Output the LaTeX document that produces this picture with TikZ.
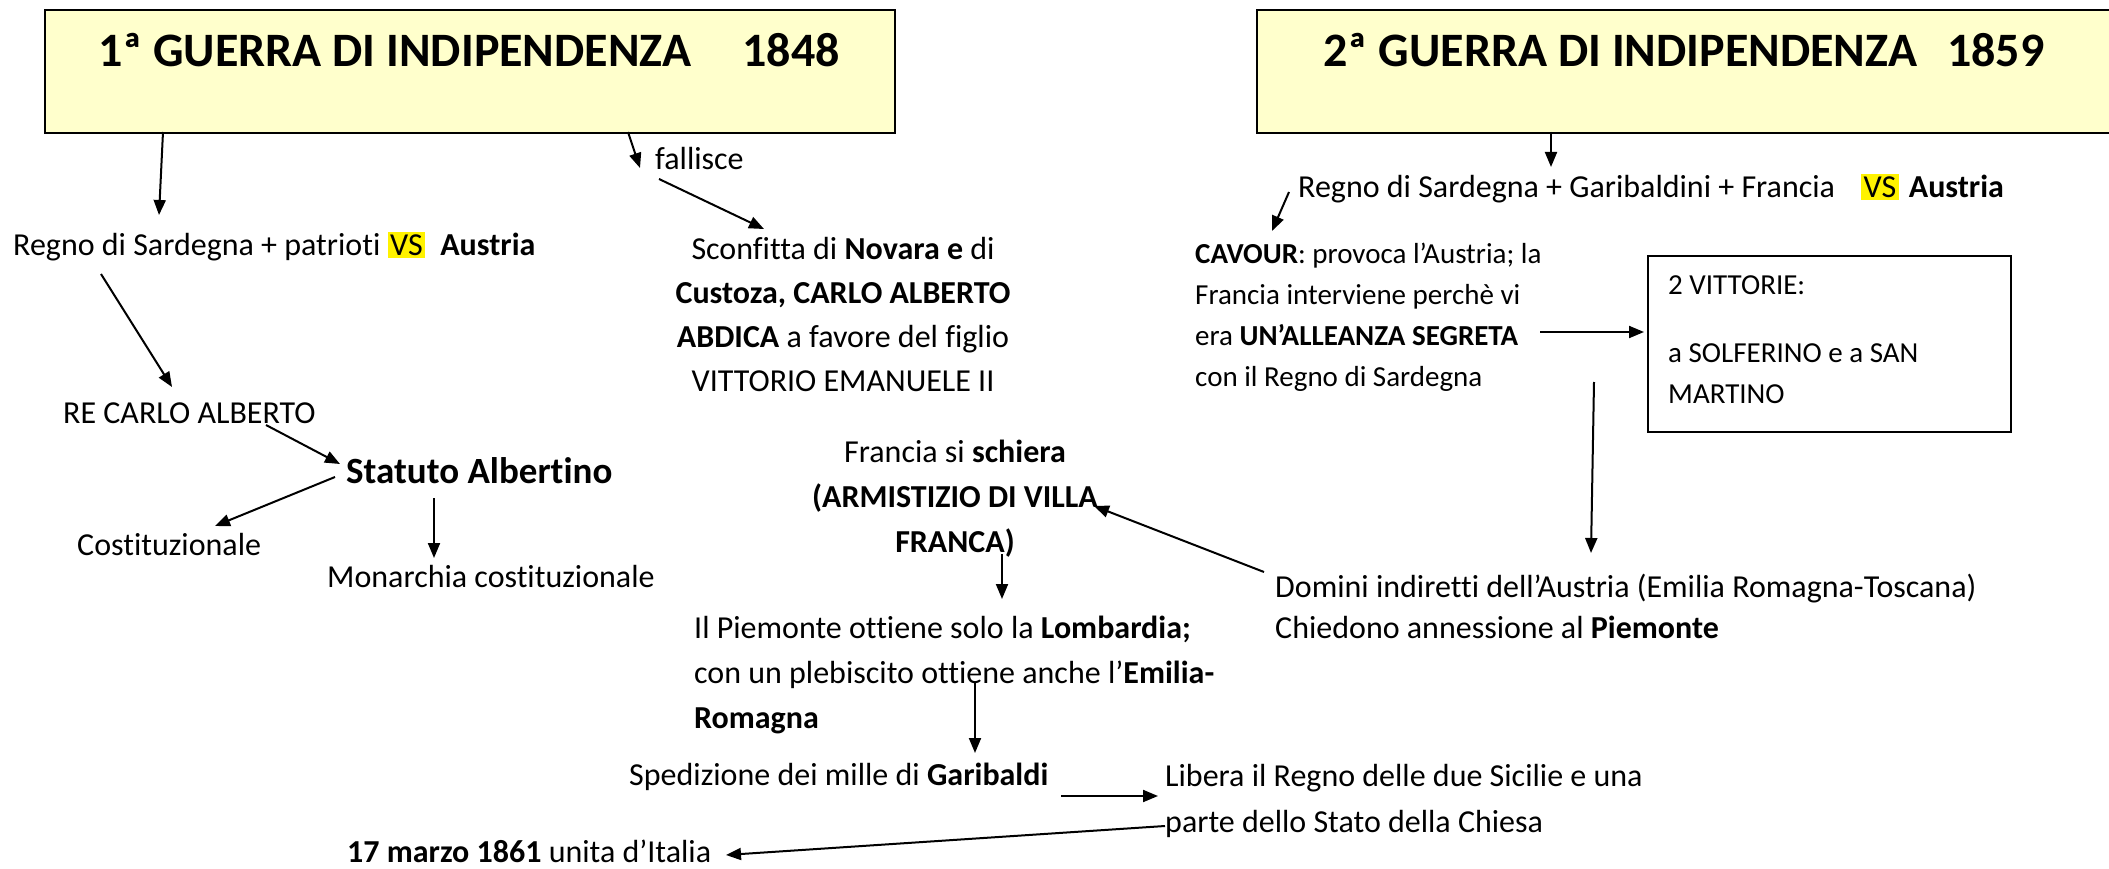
\documentclass[tikz,border=0pt]{standalone}
\usepackage{fontspec}
\setmainfont{Carlito}[Ligatures=NoCommon]
\usetikzlibrary{arrows.meta}
\definecolor{titlefill}{RGB}{255,255,204}
\newcommand{\hlvs}{{\setlength{\fboxsep}{2.5pt}\colorbox{yellow}{VS}}}
\newcommand{\fs}[1]{\fontsize{32}{#1}\selectfont}
\newcommand{\fss}[1]{\fontsize{29}{#1}\selectfont}
\begin{document}
\begin{tikzpicture}[x=1pt,y=-1pt,
  every node/.style={inner sep=0pt},
  arr/.style={line width=2pt,-{Triangle[length=15pt,width=12pt]}},
  titlebox/.style={draw,line width=2pt,fill=titlefill,anchor=north west,minimum height=123pt},
  ttl/.style={font=\fontsize{48}{56}\selectfont\bfseries,anchor=base},
  txt/.style={font=\fs{40},anchor=base west},
  blk/.style={font=\fs{#1},align=left,anchor=north west},
  sblk/.style={font=\fss{#1},align=left,anchor=north west},
  cblk/.style={font=\fs{#1},align=center,anchor=north},
  vbox/.style={draw,line width=2pt,anchor=north west,minimum width=363pt,minimum height=176pt}
]
\useasboundingbox (0,0) rectangle (2109,869);

% title boxes
\node[titlebox,minimum width=850pt] (box1) at (44,9) {};
\node[titlebox,minimum width=880pt] (box2) at (1256,9) {};
\node[ttl] (t1) at (469,67) {1ª GUERRA DI INDIPENDENZA\hspace{51pt}1848};
\node[ttl] (t2) at (1684,67) {2ª GUERRA DI INDIPENDENZA\hspace{30pt}1859};

% left side
\node[txt] (regno1) at (13,255) {Regno di Sardegna + patrioti \hlvs\hspace{15pt}\textbf{Austria}};
\node[txt] (re) at (63,423) {RE CARLO ALBERTO};
\node[txt,font=\fontsize{37}{44}\selectfont\bfseries] (statuto) at (346,483) {Statuto Albertino};
\node[txt] (cost) at (77,555) {Costituzionale};
\node[txt] (mon) at (327,587) {Monarchia costituzionale};
\node[txt] (fall) at (655,170) {fallisce};
\node[cblk=44] (sconf) at (843,228) {\strut Sconfitta di \textbf{Novara e} di\\ \textbf{Custoza, CARLO ALBERTO}\\ \textbf{ABDICA} a favore del figlio\\ VITTORIO EMANUELE II};

% right side
\node[txt] (regno2) at (1298,197) {Regno di Sardegna + Garibaldini + Francia\hspace{26pt}\hlvs\hspace{10pt}\textbf{Austria}};
\node[sblk=41] (cavour) at (1195,234.3) {\strut\textbf{CAVOUR}: provoca l’Austria; la\\ Francia interviene perchè vi\\ era \textbf{UN’ALLEANZA SEGRETA}\\ con il Regno di Sardegna};
\node[vbox] (vitt) at (1647,255) {};
\node[sblk=41] (vtxt) at (1668,265.3) {\strut 2 VITTORIE:\\[27pt] a SOLFERINO e a SAN\\ MARTINO};
\node[blk=41] (domini) at (1275,568.3) {\strut Domini indiretti dell’Austria (Emilia Romagna-Toscana)\\ Chiedono annessione al \textbf{Piemonte}};
\node[cblk=45] (francia) at (955,430.5) {\strut Francia si \textbf{schiera}\\ \textbf{(ARMISTIZIO DI VILLA}\\ \textbf{FRANCA)}};
\node[blk=45] (piem) at (694,606.5) {\strut Il Piemonte ottiene solo la \textbf{Lombardia;}\\ con un plebiscito ottiene anche l’\textbf{Emilia-}\\ \textbf{Romagna}};
\node[txt] (sped) at (629,785) {Spedizione dei mille di \textbf{Garibaldi}};
\node[blk=46] (libera) at (1165,753.8) {\strut Libera il Regno delle due Sicilie e una\\ parte dello Stato della Chiesa};
\node[txt] (unita) at (347,862) {\textbf{17 marzo 1861} unita d’Italia};

% connector end points
\coordinate (a1s) at (163,132);  \coordinate (a1e) at (159,215);
\coordinate (a2s) at (101,274);  \coordinate (a2e) at (172,387);
\coordinate (a3s) at (266,425);  \coordinate (a3e) at (340,464);
\coordinate (a4s) at (335,477);  \coordinate (a4e) at (215,526);
\coordinate (a5s) at (434,498);  \coordinate (a5e) at (434,558);
\coordinate (a6s) at (628,132);  \coordinate (a6e) at (640,168);
\coordinate (a7s) at (659,179);  \coordinate (a7e) at (764,229);
\coordinate (b1s) at (1551,132); \coordinate (b1e) at (1551,167);
\coordinate (b2s) at (1289,192); \coordinate (b2e) at (1272,231);
\coordinate (b3s) at (1540,332); \coordinate (b3e) at (1644,332);
\coordinate (b4s) at (1594,382); \coordinate (b4e) at (1591,553);
\coordinate (b5s) at (1264,572); \coordinate (b5e) at (1094,506);
\coordinate (b6s) at (1002,554); \coordinate (b6e) at (1002,599);
\coordinate (b7s) at (975,683);  \coordinate (b7e) at (975,753);
\coordinate (b8s) at (1061,796); \coordinate (b8e) at (1158,796);
\coordinate (b9s) at (1165,826); \coordinate (b9e) at (726,855);

\draw[arr] (a1s) -- (a1e);
\draw[arr] (a2s) -- (a2e);
\draw[arr] (a3s) -- (a3e);
\draw[arr] (a4s) -- (a4e);
\draw[arr] (a5s) -- (a5e);
\draw[arr] (a6s) -- (a6e);
\draw[arr] (a7s) -- (a7e);
\draw[arr] (b1s) -- (b1e);
\draw[arr] (b2s) -- (b2e);
\draw[arr] (b3s) -- (b3e);
\draw[arr] (b4s) -- (b4e);
\draw[arr] (b5s) -- (b5e);
\draw[arr] (b6s) -- (b6e);
\draw[arr] (b7s) -- (b7e);
\draw[arr] (b8s) -- (b8e);
\draw[arr] (b9s) -- (b9e);
\end{tikzpicture}
\end{document}
